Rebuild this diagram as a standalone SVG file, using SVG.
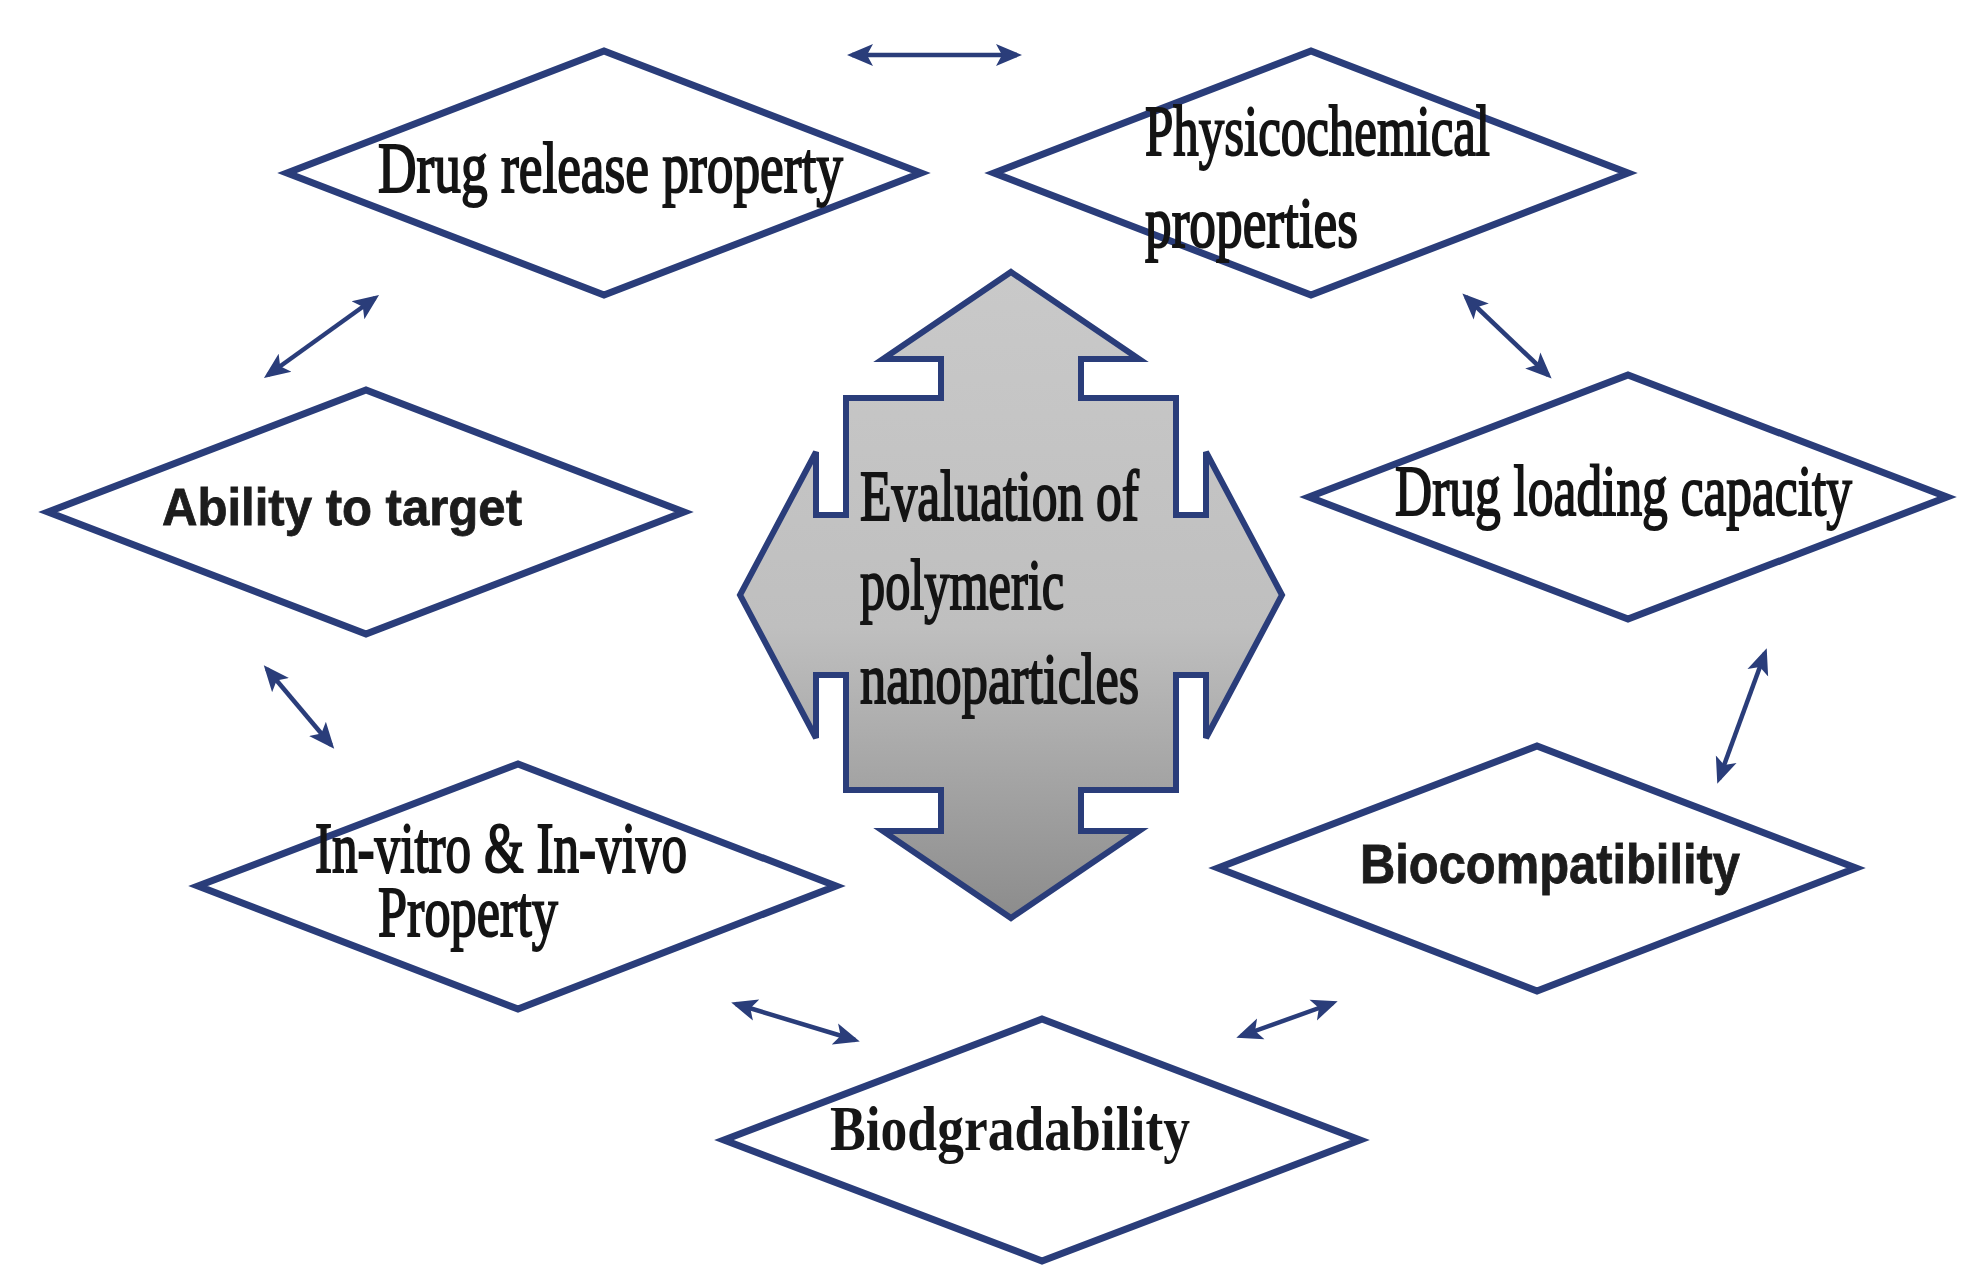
<svg xmlns="http://www.w3.org/2000/svg" width="1978" height="1284" viewBox="0 0 1978 1284">
<defs>
<style>
.dia{fill:#ffffff;stroke:#2a3d7a;stroke-width:7;stroke-linejoin:miter}
.con{stroke:#2a3d7a;stroke-width:4.5;fill:none;marker-start:url(#ah);marker-end:url(#ah)}
.serif{font-family:"Liberation Serif","Times New Roman",serif;font-size:72px;fill:#141414;stroke:#141414;stroke-width:2}
.sansb{font-family:"Liberation Sans",Arial,sans-serif;font-weight:bold;fill:#1c1c1c;stroke:#1c1c1c;stroke-width:0.8}
.serifb{font-family:"Liberation Serif","Times New Roman",serif;font-weight:bold;fill:#161616}
</style>
<marker id="ah" markerUnits="userSpaceOnUse" markerWidth="28" markerHeight="24" viewBox="0 0 28 24" refX="21" refY="12" orient="auto-start-reverse">
<path d="M0,1 L26,12 L0,23 L6,12 Z" fill="#2a3d7a"/>
</marker>
<linearGradient id="gr" x1="0" y1="0" x2="0" y2="1">
<stop offset="0" stop-color="#c9c9c9"/>
<stop offset="0.55" stop-color="#bfbfbf"/>
<stop offset="1" stop-color="#8c8c8c"/>
</linearGradient>
</defs>
<rect width="1978" height="1284" fill="#ffffff"/>

<g id="connectors">
<line class="con" x1="852" y1="55" x2="1017" y2="55"/>
<line class="con" x1="375" y1="298" x2="268" y2="375"/>
<line class="con" x1="1466" y1="297" x2="1548" y2="375"/>
<line class="con" x1="267" y1="669" x2="331" y2="745"/>
<line class="con" x1="1765" y1="653" x2="1719" y2="779"/>
<line class="con" x1="736" y1="1004" x2="855" y2="1040"/>
<line class="con" x1="1241" y1="1036" x2="1333" y2="1003"/>
</g>

<g id="center">
<polygon points="1011,272 1139,359 1081,359 1081,398 1176,398 1176,515 1206,515 1206,452 1282,595 1206,738 1206,675 1176,675 1176,790 1081,790 1081,831 1139,831 1011,918 883,831 941,831 941,790 846,790 846,675 816,675 816,738 740,595 816,452 816,515 846,515 846,398 941,398 941,359 883,359" fill="url(#gr)" stroke="#2a3d7a" stroke-width="6" stroke-linejoin="miter"/>
<text class="serif" x="860" y="520" textLength="279" lengthAdjust="spacingAndGlyphs">Evaluation of</text>
<text class="serif" x="860" y="609" textLength="204" lengthAdjust="spacingAndGlyphs">polymeric</text>
<text class="serif" x="860" y="703" textLength="279" lengthAdjust="spacingAndGlyphs">nanoparticles</text>
</g>

<g id="drug-release">
<polygon class="dia" points="287,173 604,51 921,173 604,295"/>
<text class="serif" x="378" y="192" textLength="465" lengthAdjust="spacingAndGlyphs">Drug release property</text>
</g>

<g id="physicochemical">
<polygon class="dia" points="994,173 1311,51 1628,173 1311,295"/>
<text class="serif" x="1145" y="155" textLength="345" lengthAdjust="spacingAndGlyphs">Physicochemical</text>
<text class="serif" x="1145" y="247" textLength="213" lengthAdjust="spacingAndGlyphs">properties</text>
</g>

<g id="ability">
<polygon class="dia" points="48,512 366,390 684,512 366,634"/>
<text class="sansb" x="162" y="525" font-size="52" textLength="360" lengthAdjust="spacingAndGlyphs">Ability to target</text>
</g>

<g id="drug-loading">
<polygon class="dia" points="1309,497 1628,375 1947,497 1628,619"/>
<text class="serif" x="1395" y="515" textLength="457" lengthAdjust="spacingAndGlyphs">Drug loading capacity</text>
</g>

<g id="invitro">
<polygon class="dia" points="198,886 518,764 836,886 518,1009"/>
<text class="serif" x="315" y="872" font-size="70" textLength="372" lengthAdjust="spacingAndGlyphs">In-vitro &amp; In-vivo</text>
<text class="serif" x="378" y="936" font-size="70" textLength="180" lengthAdjust="spacingAndGlyphs">Property</text>
</g>

<g id="biocompatibility">
<polygon class="dia" points="1218,868 1537,746 1856,868 1537,991"/>
<text class="sansb" x="1360" y="883" font-size="55" textLength="380" lengthAdjust="spacingAndGlyphs">Biocompatibility</text>
</g>

<g id="biodegradability">
<polygon class="dia" points="724,1140 1042,1019 1360,1140 1042,1261"/>
<text class="serifb" x="830" y="1150" font-size="63" textLength="360" lengthAdjust="spacingAndGlyphs">Biodgradability</text>
</g>
</svg>
